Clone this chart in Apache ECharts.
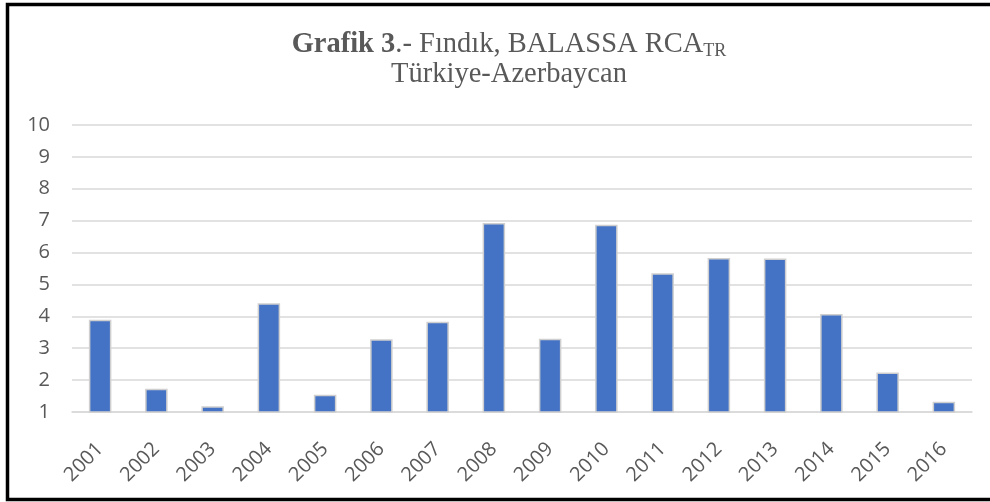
<!DOCTYPE html>
<html>
<head>
<meta charset="utf-8">
<script src="https://cdn.jsdelivr.net/npm/echarts@6/dist/echarts.min.js"></script>
<style>
  html, body { margin: 0; padding: 0; background: #fff; }
  #chart { width: 990px; height: 502px; }
</style>
</head>
<body>
<div id="chart"></div>
<script>
// yillar ve RCA degerleri
var years = ['2001', '2002', '2003', '2004', '2005', '2006', '2007', '2008',
             '2009', '2010', '2011', '2012', '2013', '2014', '2015', '2016'];
var rca = [3.89, 1.73, 1.18, 4.41, 1.54, 3.28, 3.83, 6.93,
           3.30, 6.87, 5.35, 5.83, 5.81, 4.07, 2.24, 1.32];
var yMin = 1, yMax = 10, yStep = 1;

var labelFont = '"Open Sans", "Noto Sans", sans-serif';
var serif = '"Liberation Serif", "Times New Roman", serif';
var myChart = echarts.init(document.getElementById('chart'));

myChart.setOption({
    animation: false,
    backgroundColor: '#fff',
    title: {
        left: 504,
        top: 25,
        textAlign: 'center',
        text: '{b|Grafik 3}{r|.- Fındık, BALASSA RCA}{s|TR}\n{r|Türkiye-Azerbaycan}',
        textStyle: {
            fontWeight: 'normal',
            rich: {
                b: { fontFamily: serif, fontWeight: 'bold', fontSize: 28.5, color: '#595959', lineHeight: 30 },
                r: { fontFamily: serif, fontWeight: 'normal', fontSize: 28.5, color: '#595959', lineHeight: 30 },
                s: { fontFamily: serif, fontWeight: 'normal', fontSize: 18, color: '#595959', lineHeight: 30, verticalAlign: 'bottom', padding: [12, 0, 0, 0] }
            }
        }
    },
    grid: {
        left: 72,
        right: 18,
        top: 125,
        bottom: 90,
        containLabel: false
    },
    xAxis: {
        type: 'category',
        data: years,
        axisLine: { lineStyle: { color: '#d9d9d9', width: 1.5 } },
        axisTick: { show: false },
        axisLabel: {
            rotate: 45,
            margin: 34,
            fontFamily: labelFont,
            fontSize: 20,
            color: '#595959'
        }
    },
    yAxis: {
        type: 'value',
        min: yMin,
        max: yMax,
        interval: yStep,
        axisLine: { show: false },
        axisTick: { show: false },
        axisLabel: {
            margin: 22,
            fontFamily: labelFont,
            fontSize: 20,
            color: '#595959'
        },
        splitLine: { lineStyle: { color: '#d9d9d9', width: 1.5 } }
    },
    series: [{
        type: 'bar',
        data: rca,
        barWidth: '40%',
        itemStyle: {
            color: '#4472c4',
            borderColor: '#cfcfcf',
            borderWidth: 1.5
        }
    }],
    graphic: [{
        type: 'rect',
        shape: { x: 7.5, y: 4.5, width: 1000, height: 495 },
        style: { fill: 'none', stroke: '#000', lineWidth: 3.5 },
        silent: true
    }]
});
</script>
</body>
</html>
